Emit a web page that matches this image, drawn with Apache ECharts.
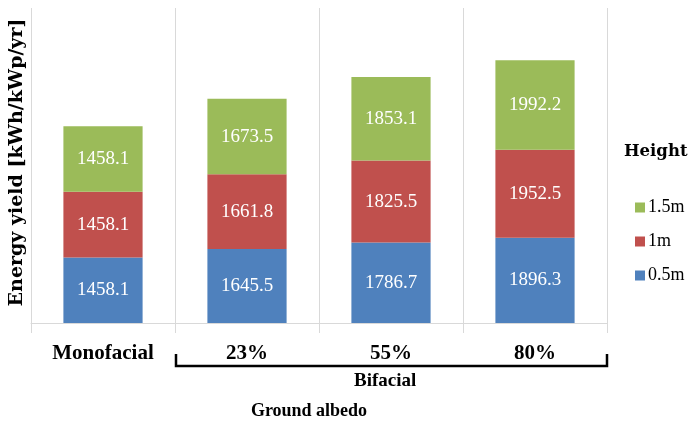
<!DOCTYPE html>
<html>
<head>
<meta charset="utf-8">
<script src="https://cdn.jsdelivr.net/npm/echarts@6/dist/echarts.min.js"></script>
<style>
  html, body { margin: 0; padding: 0; background: #fff; }
  #main { width: 689px; height: 423px; }
</style>
</head>
<body>
<div id="main"></div>
<script>
var categories = ['Monofacial', '23%', '55%', '80%'];
var h05 = [1458.1, 1645.5, 1786.7, 1896.3];
var h1 = [1458.1, 1661.8, 1825.5, 1952.5];
var h15 = [1458.1, 1673.5, 1853.1, 1992.2];

var serif = 'Liberation Serif';
var wideSerif = 'DejaVu Serif';
var gridColor = '#d9d9d9';

function barSeries(name, data, color) {
  return {
    name: name,
    type: 'bar',
    stack: 'total',
    barWidth: '55%',
    data: data,
    itemStyle: { color: color },
    label: {
      show: true,
      position: 'inside',
      color: '#fff',
      fontSize: 19,
      fontFamily: serif,
      formatter: function (p) { return p.value.toFixed(1); }
    }
  };
}

var chart = echarts.init(document.getElementById('main'));
var option = {
  animation: false,
  grid: { left: 31, right: 82, top: 8, bottom: 100, outerBoundsMode: 'none' },
  title: {
    text: 'Height',
    left: 619,
    top: 138,
    textStyle: { fontFamily: wideSerif, fontWeight: 'bold', fontSize: 16.5, color: '#000' }
  },
  legend: {
    data: ['1.5m', '1m', '0.5m'],
    orient: 'vertical',
    left: 630,
    top: 193,
    itemWidth: 10,
    itemHeight: 10,
    itemGap: 15,
    icon: 'rect',
    textStyle: { fontFamily: serif, fontSize: 18, lineHeight: 19, color: '#000', padding: [0, 0, 0, -2] }
  },
  xAxis: {
    type: 'category',
    data: categories,
    name: 'Ground albedo',
    nameLocation: 'middle',
    nameGap: 79,
    nameTextStyle: { fontFamily: serif, fontWeight: 'bold', fontSize: 18, color: '#000', padding: [0, 20, 0, 0] },
    axisLine: { lineStyle: { color: gridColor } },
    axisTick: { show: true, length: 10, lineStyle: { color: gridColor } },
    splitLine: { show: true, lineStyle: { color: gridColor } },
    axisLabel: { fontFamily: serif, fontWeight: 'bold', fontSize: 21, color: '#000', margin: 20 }
  },
  yAxis: {
    type: 'value',
    min: 0,
    max: 7000,
    name: 'Energy yield [kWh/kWp/yr]',
    nameLocation: 'middle',
    nameRotate: 90,
    nameGap: 4,
    nameTextStyle: { fontFamily: wideSerif, fontWeight: 'bold', fontSize: 19, color: '#000', padding: [0, 0, 0, 6] },
    axisLine: { show: false },
    axisTick: { show: false },
    axisLabel: { show: false },
    splitLine: { show: false }
  },
  graphic: [
    {
      type: 'polyline',
      shape: { points: [[176, 354], [176, 366], [607, 366], [607, 354]] },
      style: { stroke: '#000', lineWidth: 2.5, fill: null }
    },
    {
      type: 'text',
      left: 354,
      top: 372,
      style: { text: 'Bifacial', font: 'bold 19px ' + serif, fill: '#000' }
    }
  ],
  series: [
    barSeries('0.5m', h05, '#4f81bd'),
    barSeries('1m', h1, '#c0504d'),
    barSeries('1.5m', h15, '#9bbb59')
  ]
};
chart.setOption(option);
</script>
</body>
</html>
